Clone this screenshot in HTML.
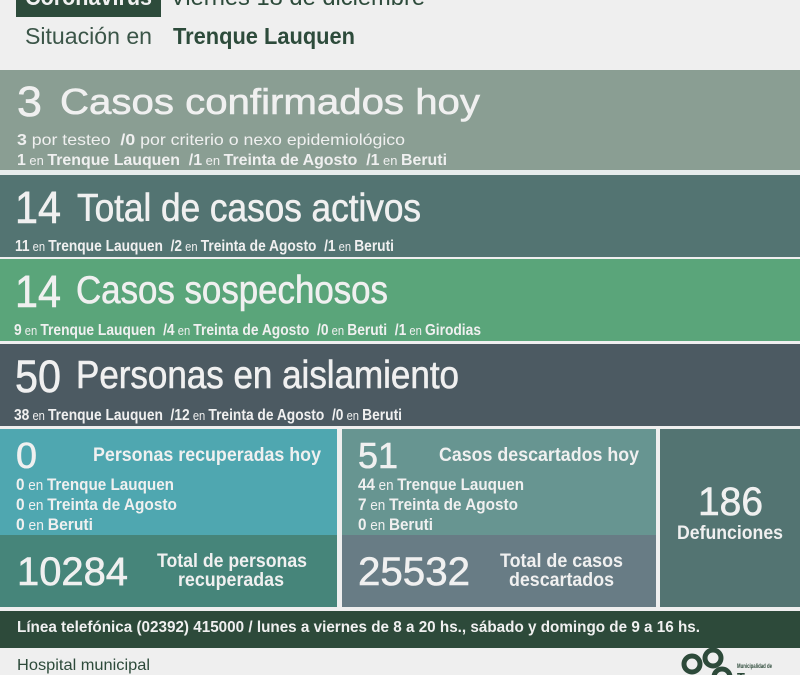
<!DOCTYPE html>
<html><head><meta charset="utf-8"><style>
html,body{margin:0;padding:0;background:#efefef;}
svg{display:block;}
text{font-family:"Liberation Sans",sans-serif;white-space:pre;}
.w{fill:#f0f0f0;}
.t{stroke:#f0f0f0;stroke-width:0.6px;}
.b{font-weight:bold;}
.r{font-weight:normal;}
</style></head><body>
<svg width="800" height="675" viewBox="0 0 800 675" xmlns="http://www.w3.org/2000/svg" xml:space="preserve">
<rect x="0" y="0" width="800" height="675" fill="#efefef"/>
<!-- header -->
<rect x="16" y="0" width="145" height="17" fill="#2d4b3b"/>
<text x="25" y="5" font-size="24" class="b w" textLength="127" lengthAdjust="spacingAndGlyphs">Coronavirus</text>
<text x="170" y="5" font-size="24" fill="#2d4b3b" textLength="255" lengthAdjust="spacingAndGlyphs">Viernes 18 de diciembre</text>
<text x="25" y="44" font-size="23" fill="#3b5548" textLength="127" lengthAdjust="spacingAndGlyphs">Situación en</text>
<text x="173" y="44" font-size="23" class="b" fill="#2d4b3b" textLength="182" lengthAdjust="spacingAndGlyphs">Trenque Lauquen</text>

<!-- bands -->
<rect x="0" y="70" width="800" height="100" fill="#8a9e93"/>
<rect x="0" y="170" width="800" height="5" fill="#e6ecec"/>
<rect x="0" y="175" width="800" height="82" fill="#537472"/>
<rect x="0" y="259" width="800" height="82" fill="#5aa57a"/>
<rect x="0" y="344" width="800" height="82" fill="#4c5a62"/>

<text x="17" y="116" font-size="43" class="w t" textLength="25" lengthAdjust="spacingAndGlyphs">3</text>
<text x="60" y="114" font-size="36" class="w t" textLength="420" lengthAdjust="spacingAndGlyphs">Casos confirmados hoy</text>
<text x="17" y="145" font-size="16" class="w" textLength="388" lengthAdjust="spacingAndGlyphs"><tspan class="b">3</tspan> por testeo  <tspan class="b">/0</tspan> por criterio o nexo epidemiológico</text>
<text x="17" y="165" font-size="16" class="w" textLength="430" lengthAdjust="spacingAndGlyphs"><tspan class="b">1</tspan><tspan font-size="13"> en </tspan><tspan class="b">Trenque Lauquen  /1</tspan><tspan font-size="13"> en </tspan><tspan class="b">Treinta de Agosto  /1</tspan><tspan font-size="13"> en </tspan><tspan class="b">Beruti</tspan></text>

<text x="15" y="223" font-size="45" class="w t" textLength="46" lengthAdjust="spacingAndGlyphs">14</text>
<text x="77" y="221" font-size="39" class="w t" textLength="344" lengthAdjust="spacingAndGlyphs">Total de casos activos</text>
<text x="15" y="251" font-size="16" class="w" textLength="379" lengthAdjust="spacingAndGlyphs"><tspan class="b">11</tspan><tspan font-size="13"> en </tspan><tspan class="b">Trenque Lauquen  /2</tspan><tspan font-size="13"> en </tspan><tspan class="b">Treinta de Agosto  /1</tspan><tspan font-size="13"> en </tspan><tspan class="b">Beruti</tspan></text>

<text x="15" y="307" font-size="45" class="w t" textLength="46" lengthAdjust="spacingAndGlyphs">14</text>
<text x="76" y="303" font-size="39" class="w t" textLength="312" lengthAdjust="spacingAndGlyphs">Casos sospechosos</text>
<text x="14" y="335" font-size="16" class="w" textLength="467" lengthAdjust="spacingAndGlyphs"><tspan class="b">9</tspan><tspan font-size="13"> en </tspan><tspan class="b">Trenque Lauquen  /4</tspan><tspan font-size="13"> en </tspan><tspan class="b">Treinta de Agosto  /0</tspan><tspan font-size="13"> en </tspan><tspan class="b">Beruti  /1</tspan><tspan font-size="13"> en </tspan><tspan class="b">Girodias</tspan></text>

<text x="15" y="392" font-size="45" class="w t" textLength="46" lengthAdjust="spacingAndGlyphs">50</text>
<text x="76" y="388" font-size="39" class="w t" textLength="383" lengthAdjust="spacingAndGlyphs">Personas en aislamiento</text>
<text x="14" y="420" font-size="16" class="w" textLength="388" lengthAdjust="spacingAndGlyphs"><tspan class="b">38</tspan><tspan font-size="13"> en </tspan><tspan class="b">Trenque Lauquen  /12</tspan><tspan font-size="13"> en </tspan><tspan class="b">Treinta de Agosto  /0</tspan><tspan font-size="13"> en </tspan><tspan class="b">Beruti</tspan></text>

<!-- bottom boxes -->
<rect x="0" y="429" width="337" height="106" fill="#4fa7b0"/>
<rect x="0" y="535" width="337" height="72" fill="#46857a"/>
<rect x="342" y="429" width="314" height="106" fill="#679591"/>
<rect x="342" y="535" width="314" height="72" fill="#687c85"/>
<rect x="660" y="429" width="140" height="178" fill="#537472"/>

<text x="16" y="468" font-size="36" class="w t" textLength="21" lengthAdjust="spacingAndGlyphs">0</text>
<text x="93" y="461" font-size="19" class="w b" textLength="228" lengthAdjust="spacingAndGlyphs">Personas recuperadas hoy</text>
<text x="16" y="490" font-size="17" class="w" textLength="158" lengthAdjust="spacingAndGlyphs"><tspan class="b">0</tspan><tspan font-size="15"> en </tspan><tspan class="b">Trenque Lauquen</tspan></text>
<text x="16" y="510" font-size="17" class="w" textLength="161" lengthAdjust="spacingAndGlyphs"><tspan class="b">0</tspan><tspan font-size="15"> en </tspan><tspan class="b">Treinta de Agosto</tspan></text>
<text x="16" y="530" font-size="17" class="w" textLength="77" lengthAdjust="spacingAndGlyphs"><tspan class="b">0</tspan><tspan font-size="15"> en </tspan><tspan class="b">Beruti</tspan></text>
<text x="17" y="585" font-size="40" class="w t" textLength="111" lengthAdjust="spacingAndGlyphs">10284</text>
<text x="157" y="567" font-size="19" class="w b" textLength="150" lengthAdjust="spacingAndGlyphs">Total de personas</text>
<text x="178" y="586" font-size="19" class="w b" textLength="106" lengthAdjust="spacingAndGlyphs">recuperadas</text>

<text x="358" y="468" font-size="36" class="w t" textLength="40" lengthAdjust="spacingAndGlyphs">51</text>
<text x="439" y="461" font-size="19" class="w b" textLength="200" lengthAdjust="spacingAndGlyphs">Casos descartados hoy</text>
<text x="358" y="490" font-size="17" class="w" textLength="166" lengthAdjust="spacingAndGlyphs"><tspan class="b">44</tspan><tspan font-size="15"> en </tspan><tspan class="b">Trenque Lauquen</tspan></text>
<text x="358" y="510" font-size="17" class="w" textLength="160" lengthAdjust="spacingAndGlyphs"><tspan class="b">7</tspan><tspan font-size="15"> en </tspan><tspan class="b">Treinta de Agosto</tspan></text>
<text x="358" y="530" font-size="17" class="w" textLength="75" lengthAdjust="spacingAndGlyphs"><tspan class="b">0</tspan><tspan font-size="15"> en </tspan><tspan class="b">Beruti</tspan></text>
<text x="358" y="585" font-size="40" class="w t" textLength="112" lengthAdjust="spacingAndGlyphs">25532</text>
<text x="500" y="567" font-size="19" class="w b" textLength="123" lengthAdjust="spacingAndGlyphs">Total de casos</text>
<text x="509" y="586" font-size="19" class="w b" textLength="105" lengthAdjust="spacingAndGlyphs">descartados</text>

<text x="698" y="515" font-size="40" class="w t" textLength="65" lengthAdjust="spacingAndGlyphs">186</text>
<text x="677" y="539" font-size="19" class="w b" textLength="106" lengthAdjust="spacingAndGlyphs">Defunciones</text>

<!-- footer -->
<rect x="0" y="611" width="800" height="37" fill="#2d4a3a"/>
<text x="17" y="632" font-size="16" class="w b" textLength="683" lengthAdjust="spacingAndGlyphs">Línea telefónica (02392) 415000 / lunes a viernes de 8 a 20 hs., sábado y domingo de 9 a 16 hs.</text>
<text x="17" y="670" font-size="16" fill="#2d4a3a" textLength="133" lengthAdjust="spacingAndGlyphs">Hospital municipal</text>

<!-- logo -->
<g fill="none" stroke="#2d4a3a" stroke-width="5">
<circle cx="692" cy="664" r="8"/>
<circle cx="713" cy="658" r="8"/>
<circle cx="722" cy="677" r="8"/>
</g>
<text x="737" y="668" font-size="6" class="b" fill="#2d4a3a" textLength="35" lengthAdjust="spacingAndGlyphs">Municipalidad de</text>
<text x="737" y="683" font-size="15" class="b" fill="#2d4a3a" textLength="50" lengthAdjust="spacingAndGlyphs">Trenque</text>
</svg>
</body></html>
